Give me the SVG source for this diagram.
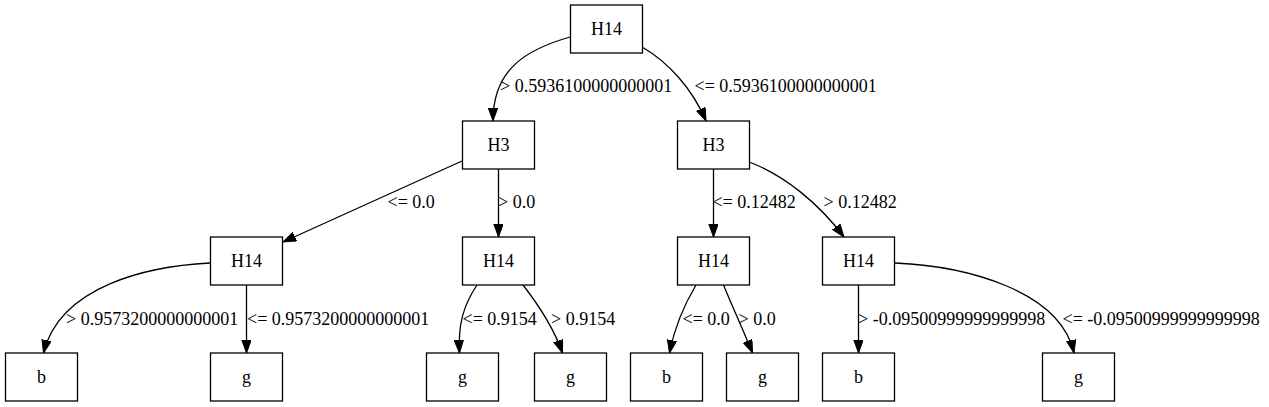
<svg xmlns="http://www.w3.org/2000/svg" width="1269" height="407" viewBox="0 0 1269 407">
<style>
.n rect{fill:#fff;stroke:#000;stroke-width:1.3}
text{font-family:"Liberation Serif",Times,serif;font-size:18px;fill:#000}
.n text{text-anchor:middle}
.e path{fill:none;stroke:#000;stroke-width:1.3;marker-end:url(#ah)}
</style>
<defs>
<marker id="ah" markerUnits="userSpaceOnUse" markerWidth="14" markerHeight="10" refX="13" refY="4.7" orient="auto" viewBox="0 0 14 10">
<path d="M0,0 L13,4.7 L0,9.4 z" fill="#000" stroke="#000" stroke-width="1"/>
</marker>
</defs>
<rect width="1269" height="407" fill="#fff"/>
<g id="edges" class="e">
<path d="M570,37 C528,49 493,68 493,121"/>
<path d="M642,47 C668,62 692,88 706,121"/>
<path d="M462,161 L283,242"/>
<path d="M498.5,169 L498.5,237"/>
<path d="M713.5,169 L713.5,237"/>
<path d="M749,162 C785,175 820,205 844,237"/>
<path d="M210,263 C150,266 60,285 43.5,353"/>
<path d="M246.5,285 L246.5,353"/>
<path d="M477,285 C463,306 458,325 459.5,353"/>
<path d="M523,285 C537,303 553,326 562.5,353"/>
<path d="M696,285 C684,305 675,325 669.5,353"/>
<path d="M723.5,285 C733,308 744,332 752.5,353"/>
<path d="M858.5,285 L858.5,353"/>
<path d="M895,263 C965,266 1060,290 1074,353"/>
</g>
<g id="edge-labels">
<text x="500" y="92">&gt; 0.5936100000000001</text>
<text x="694.5" y="92">&lt;= 0.5936100000000001</text>
<text x="387.5" y="208">&lt;= 0.0</text>
<text x="498" y="208">&gt; 0.0</text>
<text x="712.5" y="208">&lt;= 0.12482</text>
<text x="823.5" y="208">&gt; 0.12482</text>
<text x="66" y="325">&gt; 0.9573200000000001</text>
<text x="247" y="325">&lt;= 0.9573200000000001</text>
<text x="462.5" y="325">&lt;= 0.9154</text>
<text x="551" y="325">&gt; 0.9154</text>
<text x="682.5" y="325">&lt;= 0.0</text>
<text x="738.5" y="325">&gt; 0.0</text>
<text x="858" y="325">&gt; -0.09500999999999998</text>
<text x="1062.5" y="325">&lt;= -0.09500999999999998</text>
</g>
<g id="n0" class="n"><rect x="570.5" y="5" width="72" height="48"/><text x="606.5" y="35">H14</text></g>
<g id="n1" class="n"><rect x="462.5" y="121" width="72" height="48"/><text x="498.5" y="151">H3</text></g>
<g id="n2" class="n"><rect x="677.5" y="121" width="72" height="48"/><text x="713.5" y="151">H3</text></g>
<g id="n3" class="n"><rect x="210.5" y="237" width="72" height="48"/><text x="246.5" y="267">H14</text></g>
<g id="n4" class="n"><rect x="462.5" y="237" width="72" height="48"/><text x="498.5" y="267">H14</text></g>
<g id="n5" class="n"><rect x="677.5" y="237" width="72" height="48"/><text x="713.5" y="267">H14</text></g>
<g id="n6" class="n"><rect x="822.5" y="237" width="72" height="48"/><text x="858.5" y="267">H14</text></g>
<g id="n7" class="n"><rect x="5.5" y="353" width="72" height="48"/><text x="41.5" y="383">b</text></g>
<g id="n8" class="n"><rect x="210.5" y="353" width="72" height="48"/><text x="246.5" y="383">g</text></g>
<g id="n9" class="n"><rect x="426.5" y="353" width="72" height="48"/><text x="462.5" y="383">g</text></g>
<g id="n10" class="n"><rect x="534.5" y="353" width="72" height="48"/><text x="570.5" y="383">g</text></g>
<g id="n11" class="n"><rect x="630.5" y="353" width="72" height="48"/><text x="666.5" y="383">b</text></g>
<g id="n12" class="n"><rect x="726.5" y="353" width="72" height="48"/><text x="762.5" y="383">g</text></g>
<g id="n13" class="n"><rect x="822.5" y="353" width="72" height="48"/><text x="858.5" y="383">b</text></g>
<g id="n14" class="n"><rect x="1042.5" y="353" width="72" height="48"/><text x="1078.5" y="383">g</text></g>
</svg>
